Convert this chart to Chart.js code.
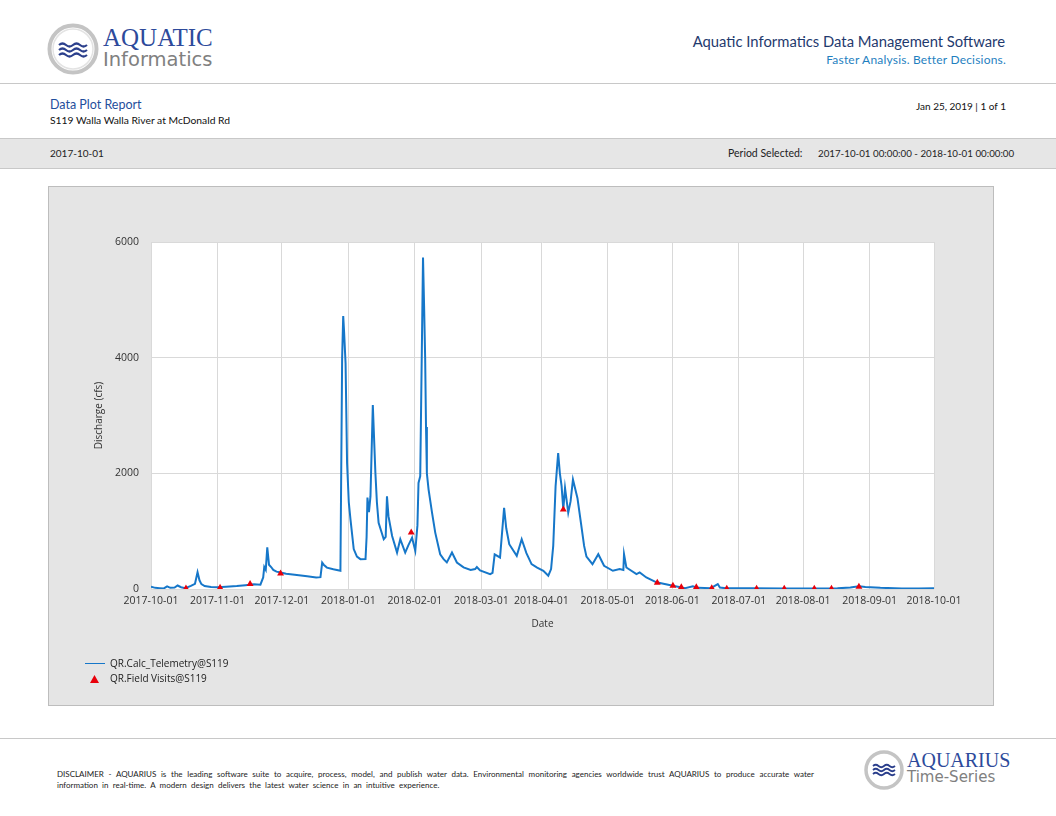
<!DOCTYPE html>
<html>
<head>
<meta charset="utf-8">
<script src="https://cdn.jsdelivr.net/npm/chart.js@4.4.1/dist/chart.umd.min.js"></script>
<style>
  body { margin: 0; background: #fff; }
  #page { position: relative; width: 1056px; height: 816px; overflow: hidden; font-family: Lato, "Open Sans", sans-serif; }
  .abs { position: absolute; white-space: nowrap; }
  .rule { position: absolute; left: 0; width: 1056px; height: 1px; background: #c8c8c8; }
  #band { position: absolute; left: 0; top: 138px; width: 1056px; height: 29px; background: #e6e6e6; border-top: 1px solid #c8c8c8; border-bottom: 1px solid #c8c8c8; }
  #box { position: absolute; left: 48px; top: 186px; width: 944px; height: 518px; background: #e5e5e5; border: 1px solid #bdbdbd; }
  #box canvas { position: absolute; left: 0; top: 0; }
  .legend { position: absolute; font-family: "Open Sans", sans-serif; font-size: 10px; color: #222; }
</style>
</head>
<body>
<div id="page">
  <svg class="abs" style="left:46px;top:22px" width="54" height="54" viewBox="0 0 54 54">
    <circle cx="27" cy="27" r="23.5" fill="#fff" stroke="#c4c4c4" stroke-width="4"/>
    <circle cx="27" cy="27" r="20" fill="none" stroke="#e3e3e3" stroke-width="1.5"/>
    <g fill="none" stroke="#2b3f8c" stroke-width="2.2">
      <path d="M13 23 q3.5 -3 7 0 t7 0 t7 0 t7 0"/>
      <path d="M13 28 q3.5 -3 7 0 t7 0 t7 0 t7 0"/>
      <path d="M13 33 q3.5 -3 7 0 t7 0 t7 0 t7 0"/>
    </g>
  </svg>
  <div class="abs" style="left:103px;top:24px;font-family:'Liberation Serif',serif;font-size:25px;color:#2d4a9b;">AQUATIC</div>
  <div class="abs" style="left:103px;top:48px;font-family:'DejaVu Sans',sans-serif;font-size:19.5px;color:#808080;">Informatics</div>

  <div class="abs" style="right:51px;top:32px;font-size:14.8px;color:#1f3a6e;">Aquatic Informatics Data Management Software</div>
  <div class="abs" style="right:50px;top:52px;font-size:12px;color:#1f7fbf;letter-spacing:0.2px;">Faster Analysis. Better Decisions.</div>

  <div class="rule" style="top:83px"></div>

  <div class="abs" style="left:50px;top:97px;font-size:12.5px;color:#1f4e9c;">Data Plot Report</div>
  <div class="abs" style="left:50px;top:114px;font-size:10.3px;color:#111;">S119 Walla Walla River at McDonald Rd</div>
  <div class="abs" style="right:50px;top:100px;font-size:10px;color:#111;">Jan 25, 2019 | 1 of 1</div>

  <div id="band"></div>
  <div class="abs" style="left:50px;top:147px;font-size:10px;color:#222;">2017-10-01</div>
  <div class="abs" style="left:728px;top:147px;font-size:10.5px;color:#222;">Period Selected:</div>
  <div class="abs" style="left:818px;top:147px;font-size:9.75px;color:#222;">2017-10-01 00:00:00 - 2018-10-01 00:00:00</div>

  <div id="box">
    <canvas id="chart" width="944" height="518"></canvas>
    <div class="legend" style="left:36px;top:476px;width:20px;height:1px;background:#1677c9;"></div>
    <div class="legend abs" style="left:61px;top:469px;">QR.Calc_Telemetry@S119</div>
    <svg class="legend" style="left:41px;top:488px" width="9" height="8" viewBox="0 0 9 8"><path d="M4.5 0 L9 8 L0 8 Z" fill="#e8000b"/></svg>
    <div class="legend abs" style="left:61px;top:484px;">QR.Field Visits@S119</div>
  </div>

  <div class="rule" style="top:738px"></div>
  <div class="abs" style="left:57px;top:769px;width:757px;font-size:8px;color:#222;text-align:justify;text-align-last:justify;white-space:normal;">DISCLAIMER - AQUARIUS is the leading software suite to acquire, process, model, and publish water data. Environmental monitoring agencies worldwide trust AQUARIUS to produce accurate water</div>
  <div class="abs" style="left:57px;top:780px;font-size:8px;word-spacing:2.2px;color:#222;">information in real-time. A modern design delivers the latest water science in an intuitive experience.</div>

  <svg class="abs" style="left:863px;top:749px" width="42" height="42" viewBox="0 0 42 42">
    <circle cx="21" cy="21" r="18" fill="#fff" stroke="#c4c4c4" stroke-width="3.5"/>
    <g fill="none" stroke="#2b3f8c" stroke-width="1.8">
      <path d="M10 17 q2.75 -2.4 5.5 0 t5.5 0 t5.5 0 t5.5 0"/>
      <path d="M10 21 q2.75 -2.4 5.5 0 t5.5 0 t5.5 0 t5.5 0"/>
      <path d="M10 25 q2.75 -2.4 5.5 0 t5.5 0 t5.5 0 t5.5 0"/>
    </g>
  </svg>
  <div class="abs" style="left:907px;top:749px;font-family:'Liberation Serif',serif;font-size:20px;color:#2d4a9b;">AQUARIUS</div>
  <div class="abs" style="left:907px;top:768px;font-family:'DejaVu Sans',sans-serif;font-size:15px;color:#808080;">Time-Series</div>
</div>

<script>
// days since 2017-10-01
const flowDays = [0, 2, 4, 6, 7.5, 9, 11, 12.4, 14, 16, 18.6, 20.5, 21.7, 22.6, 23.5, 25, 28, 31, 35, 40, 44, 48, 51,
  52.3, 52.8, 53.5, 54.2, 55, 56, 57, 58.5, 60.4, 63, 67, 72.8, 77, 79, 79.8, 80.5, 82, 85, 88.3,
  89.1, 89.6, 90, 90.7, 91.4, 92.2, 93, 94.5, 96, 97.6, 100, 100.5, 100.9, 101.6, 102.3, 103.4, 104.6, 105.3, 106.1,
  108.5, 109.4, 110, 110.7, 112.4, 114.7, 116.2, 118.5, 120, 121.7, 123.2, 124.2, 124.7, 125.5,
  126.8, 127.3, 127.8, 128.2, 128.6, 129.4, 131, 132.5, 134.8, 136.4, 137.9, 140.3, 142.6, 145.7, 149, 151.1, 151.9, 153.4,
  158.1, 159.2, 160.2, 162.7, 164.6, 165.6, 167, 170.5, 172.8, 175, 177.4, 180, 182.9, 185.2, 186.5, 187.5, 188.6,
  189.8, 190.6, 191.4, 192.2, 193, 194.5, 195.6, 196.7, 198.8, 200.4, 201.9, 203, 205.8, 208.5, 211.2, 215.3, 218.5,
  220.2, 220.5, 221.6, 226.3, 227.8, 230.9, 235.6, 243.3, 249, 252.6, 255, 261, 264.2, 265.2, 268, 280, 295, 310,
  320, 326, 330, 333, 340, 350, 358, 365];
const flowValues = [40, 20, 15, 10, 45, 20, 25, 60, 30, 15, 55, 90, 290, 150, 85, 50, 35, 30, 40, 50, 65, 80, 75,
  200, 380, 330, 720, 420, 380, 330, 300, 285, 265, 245, 220, 200, 205, 455, 420, 370, 340, 315,
  4000, 4720, 4450, 3900, 2180, 1500, 1200, 690, 560, 516, 520, 900, 1580, 1330, 1600, 3180, 2010, 1500, 1146,
  860, 900, 1604, 1260, 916, 630, 860, 630, 760, 888, 659, 1100, 1834, 1950,
  5730, 4900, 4000, 2800, 2000, 1720, 1320, 975, 600, 516, 460, 630, 458, 373, 330, 344, 380, 320,
  258, 280, 600, 545, 1404, 1050, 774, 573, 860, 620, 430, 370, 315, 229, 345, 745, 1777,
  2350, 2000, 1780, 1375, 1748, 1318, 1518, 1891, 1570, 1146, 745, 560, 430, 602, 401, 315, 344,
  330, 602, 372, 258, 287, 200, 115, 57, 15, 46, 20, 15, 86, 25, 12, 12, 8, 8,
  12, 25, 46, 35, 20, 10, 8, 12];

const visitDays = [16.3, 32.2, 46.2, 60.4, 121.3, 192.2, 236, 243.3, 247.2, 254.2, 261.4, 268.4, 282.3, 295.2, 309.2, 317.2, 330];
const visitValues = [10, 20, 86, 270, 975, 1375, 110, 57, 30, 30, 15, 5, 5, 5, 5, 5, 40];

const monthDays = [0, 31, 61, 92, 123, 154, 182, 213, 243, 274, 304, 335, 365];
const monthLabels = ['2017-10-01', '2017-11-01', '2017-12-01', '2018-01-01', '2018-02-01', '2018-03-01', '2018-04-01',
  '2018-05-01', '2018-06-01', '2018-07-01', '2018-08-01', '2018-09-01', '2018-10-01'];
const yTicks = [0, 2000, 4000, 6000];

const tickFont = { family: 'Open Sans', size: 10.5 };

const plotBg = {
  id: 'plotBg',
  beforeDraw(chart) {
    const { ctx, chartArea } = chart;
    ctx.save();
    ctx.fillStyle = '#ffffff';
    ctx.fillRect(chartArea.left, chartArea.top, chartArea.right - chartArea.left, chartArea.bottom - chartArea.top);
    ctx.restore();
  }
};

new Chart(document.getElementById('chart'), {
  type: 'line',
  data: {
    datasets: [{
      label: 'QR.Calc_Telemetry@S119',
      data: flowDays.map((d, i) => ({ x: d, y: flowValues[i] })),
      borderColor: '#1677c9',
      borderWidth: 2,
      pointRadius: 0,
      tension: 0,
      order: 2
    }, {
      label: 'QR.Field Visits@S119',
      data: visitDays.map((d, i) => ({ x: d, y: visitValues[i] })),
      showLine: false,
      pointStyle: 'triangle',
      pointRadius: 4,
      backgroundColor: '#e8000b',
      borderColor: '#e8000b',
      borderWidth: 0,
      order: 1
    }]
  },
  options: {
    responsive: false,
    animation: false,
    layout: { padding: { left: 40, right: 59, top: 55, bottom: 71 } },
    plugins: { legend: { display: false }, tooltip: { enabled: false } },
    scales: {
      x: {
        type: 'linear',
        min: 0,
        max: 365,
        afterBuildTicks: s => { s.ticks = monthDays.map(v => ({ value: v })); },
        afterFit: s => { s.height = 45; },
        ticks: {
          autoSkip: false,
          maxRotation: 0,
          padding: 6,
          color: '#333',
          font: tickFont,
          callback: (v, i) => monthLabels[i]
        },
        grid: { color: '#d9d9d9', drawTicks: false },
        border: { display: false },
        title: { display: true, text: 'Date', color: '#333', font: { family: 'Open Sans', size: 10 }, padding: { top: 6 } }
      },
      y: {
        min: 0,
        max: 6000,
        afterBuildTicks: s => { s.ticks = yTicks.map(v => ({ value: v })); },
        afterFit: s => { s.width = 62; },
        ticks: {
          padding: 12,
          color: '#333',
          font: tickFont,
          callback: v => String(v)
        },
        grid: { color: '#d9d9d9', drawTicks: false },
        border: { display: false },
        title: { display: true, text: 'Discharge (cfs)', color: '#333', font: { family: 'Open Sans', size: 10 } }
      }
    }
  },
  plugins: [plotBg]
});
</script>
</body>
</html>
